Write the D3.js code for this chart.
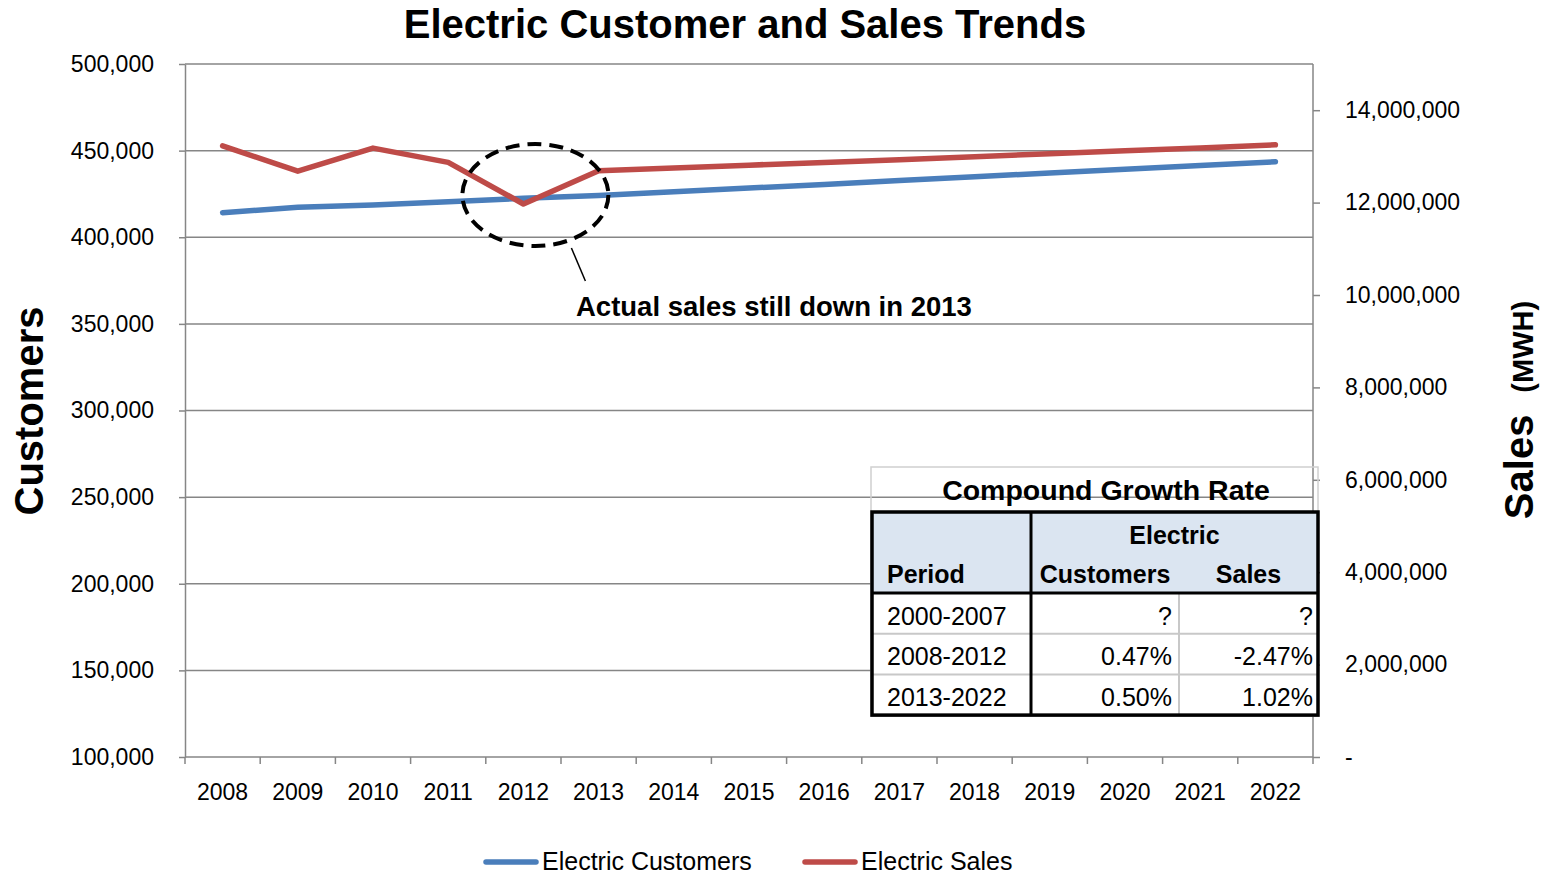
<!DOCTYPE html>
<html>
<head>
<meta charset="utf-8">
<script src="https://cdn.jsdelivr.net/npm/d3@7/dist/d3.min.js"></script>
<style>
  body { margin: 0; background: #fff; }
  svg { font-family: "Liberation Sans", Arial, sans-serif; }
  .axis path, .axis line { stroke: #868686; stroke-width: 1.5; }
  .axis text { fill: #000; font-size: 23px; }
</style>
</head>
<body>
<svg id="chart" width="1549" height="876"></svg>
<script>
// data
var years = ["2008","2009","2010","2011","2012","2013","2014","2015","2016","2017","2018","2019","2020","2021","2022"];
var customers = [414200, 417300, 418600, 420500, 422500, 424100, 426200, 428400, 430500, 432700, 434900, 437100, 439300, 441400, 443600];
var sales = [13230000, 12680000, 13180000, 12870000, 11970000, 12690000, 12750000, 12810000, 12870000, 12930000, 12990000, 13060000, 13120000, 13180000, 13250000];
var leftTicks = [100000, 150000, 200000, 250000, 300000, 350000, 400000, 450000, 500000];
var rightTicks = [0, 2000000, 4000000, 6000000, 8000000, 10000000, 12000000, 14000000];

// growth table
var tableTitle = "Compound Growth Rate";
var tablePeriods = ["2000-2007", "2008-2012", "2013-2022"];
var tableCustomers = ["?", "0.47%", "0.50%"];
var tableSales = ["?", "-2.47%", "1.02%"];

var svg = d3.select("#chart");
var plotL = 185, plotR = 1313, plotT = 64, plotB = 757;

var x = d3.scaleBand().domain(years).range([plotL, plotR]).padding(0);
var yL = d3.scaleLinear().domain([100000, 500000]).range([plotB, plotT]);
var yR = d3.scaleLinear().domain([0, 15000000]).range([plotB, plotT]);
var cx = function(d) { return x(d) + x.bandwidth() / 2; };
var fmt = d3.format(",");

// gridlines
svg.append("g").selectAll("line")
	.data(leftTicks.slice(1))
	.enter().append("line")
	.attr("x1", plotL).attr("x2", plotR)
	.attr("y1", function(d) { return yL(d); })
	.attr("y2", function(d) { return yL(d); })
	.attr("stroke", "#868686")
	.attr("stroke-width", 1.5);

// left axis
svg.append("g").attr("class", "axis")
	.attr("transform", "translate(" + plotL + ",0)")
	.call(d3.axisLeft(yL).tickValues(leftTicks).tickSize(6).tickSizeOuter(0).tickPadding(25).tickFormat(fmt));

// right axis
var axR = svg.append("g").attr("class", "axis")
	.attr("transform", "translate(" + plotR + ",0)")
	.call(d3.axisRight(yR).tickValues(rightTicks).tickSize(7).tickSizeOuter(0).tickPadding(25)
		.tickFormat(function(d) { return d === 0 ? "-" : fmt(d); }));
axR.select(".domain").attr("d", "M0," + plotT + "V" + plotB);

// bottom axis, ticks between categories
var axB = svg.append("g").attr("class", "axis")
	.attr("transform", "translate(0," + plotB + ")");
axB.append("line").attr("x1", plotL).attr("x2", plotR).attr("y1", 0).attr("y2", 0);
axB.selectAll(".tk")
	.data(d3.range(years.length + 1))
	.enter().append("line")
	.attr("x1", function(i) { return plotL + i * x.bandwidth(); })
	.attr("x2", function(i) { return plotL + i * x.bandwidth(); })
	.attr("y1", 0).attr("y2", 7);
axB.selectAll(".lbl")
	.data(years)
	.enter().append("text")
	.attr("x", cx)
	.attr("y", 43)
	.attr("text-anchor", "middle")
	.text(function(d) { return d; });

// lines
var lineC = d3.line().x(function(d, i) { return cx(years[i]); }).y(function(d) { return yL(d); });
var lineS = d3.line().x(function(d, i) { return cx(years[i]); }).y(function(d) { return yR(d); });

svg.append("path").datum(customers)
	.attr("d", lineC)
	.attr("fill", "none")
	.attr("stroke", "#4A7EBB")
	.attr("stroke-width", 5.5)
	.attr("stroke-linecap", "round")
	.attr("stroke-linejoin", "round");

svg.append("path").datum(sales)
	.attr("d", lineS)
	.attr("fill", "none")
	.attr("stroke", "#BE4B48")
	.attr("stroke-width", 5.5)
	.attr("stroke-linecap", "round")
	.attr("stroke-linejoin", "round");

// annotation round the 2012 dip
var ex = cx("2012") + 12, ey = yR(sales[4]) - 9;
svg.append("ellipse")
	.attr("cx", ex).attr("cy", ey)
	.attr("rx", 73).attr("ry", 51)
	.attr("fill", "none")
	.attr("stroke", "#000")
	.attr("stroke-width", 4)
	.attr("stroke-dasharray", "14,8");
svg.append("line")
	.attr("x1", ex + 36).attr("y1", ey + 53)
	.attr("x2", ex + 50).attr("y2", ey + 86)
	.attr("stroke", "#000").attr("stroke-width", 1.5);
svg.append("text")
	.attr("x", 576).attr("y", 316)
	.attr("font-size", 27.5).attr("font-weight", "bold")
	.text("Actual sales still down in 2013");

// title
svg.append("text")
	.attr("x", 745).attr("y", 38)
	.attr("text-anchor", "middle")
	.attr("font-size", 40).attr("font-weight", "bold")
	.text("Electric Customer and Sales Trends");

// axis titles
svg.append("text")
	.attr("transform", "translate(43,411) rotate(-90)")
	.attr("text-anchor", "middle")
	.attr("font-size", 40).attr("font-weight", "bold")
	.text("Customers");

var st = svg.append("text")
	.attr("transform", "translate(1533,410) rotate(-90)")
	.attr("text-anchor", "middle")
	.attr("font-weight", "bold");
st.append("tspan").attr("font-size", 40).text("Sales");
st.append("tspan").attr("font-size", 29).attr("dx", 22).text("(MWH)");

// growth table
var tb = svg.append("g");
var tx0 = 872, tx1 = 1031, tx2 = 1179, tx3 = 1318;
var ty0 = 512, tyH = 593, rowH = 40.7;

tb.append("rect")
	.attr("x", 871).attr("y", 467).attr("width", 447).attr("height", 249)
	.attr("fill", "none").attr("stroke", "#d0d0d0").attr("stroke-width", 1.5);
tb.append("rect")
	.attr("x", tx0).attr("y", ty0).attr("width", tx3 - tx0).attr("height", tyH - ty0)
	.attr("fill", "#DBE5F1");
tb.append("rect")
	.attr("x", tx0).attr("y", tyH).attr("width", tx3 - tx0).attr("height", 3 * rowH)
	.attr("fill", "#fff");

// light inner lines
tb.selectAll(".hl")
	.data([1, 2])
	.enter().append("line")
	.attr("x1", tx0).attr("x2", tx3)
	.attr("y1", function(i) { return tyH + i * rowH; })
	.attr("y2", function(i) { return tyH + i * rowH; })
	.attr("stroke", "#c8c8c8").attr("stroke-width", 2);
tb.append("line")
	.attr("x1", tx2).attr("x2", tx2).attr("y1", tyH).attr("y2", tyH + 3 * rowH)
	.attr("stroke", "#c8c8c8").attr("stroke-width", 2);

// heavy lines
tb.append("rect")
	.attr("x", tx0).attr("y", ty0).attr("width", tx3 - tx0).attr("height", tyH + 3 * rowH - ty0)
	.attr("fill", "none").attr("stroke", "#000").attr("stroke-width", 3.5);
tb.append("line")
	.attr("x1", tx0).attr("x2", tx3).attr("y1", tyH).attr("y2", tyH)
	.attr("stroke", "#000").attr("stroke-width", 3);
tb.append("line")
	.attr("x1", tx1).attr("x2", tx1).attr("y1", ty0).attr("y2", tyH + 3 * rowH)
	.attr("stroke", "#000").attr("stroke-width", 3);

tb.append("text")
	.attr("x", 1106).attr("y", 500)
	.attr("text-anchor", "middle")
	.attr("font-size", 28.5).attr("font-weight", "bold")
	.text(tableTitle);
tb.append("text")
	.attr("x", (tx1 + tx3) / 2).attr("y", 544)
	.attr("text-anchor", "middle")
	.attr("font-size", 25).attr("font-weight", "bold")
	.text("Electric");
tb.append("text").attr("x", 887).attr("y", 583)
	.attr("font-size", 25).attr("font-weight", "bold").text("Period");
tb.append("text").attr("x", (tx1 + tx2) / 2).attr("y", 583).attr("text-anchor", "middle")
	.attr("font-size", 25).attr("font-weight", "bold").text("Customers");
tb.append("text").attr("x", (tx2 + tx3) / 2).attr("y", 583).attr("text-anchor", "middle")
	.attr("font-size", 25).attr("font-weight", "bold").text("Sales");

var rows = tb.selectAll(".row")
	.data(tablePeriods)
	.enter().append("g")
	.attr("transform", function(d, i) { return "translate(0," + (tyH + (i + 1) * rowH - 9) + ")"; })
	.attr("font-size", 25);
rows.append("text").attr("x", 887).text(function(d) { return d; });
rows.append("text").attr("x", 1172).attr("text-anchor", "end")
	.text(function(d, i) { return tableCustomers[i]; });
rows.append("text").attr("x", 1313).attr("text-anchor", "end")
	.text(function(d, i) { return tableSales[i]; });

// legend
var legend = svg.append("g").attr("font-size", 25);
var legItems = [
	{name: "Electric Customers", color: "#4A7EBB", x: 484},
	{name: "Electric Sales", color: "#BE4B48", x: 803}
];
var li = legend.selectAll("g").data(legItems).enter().append("g")
	.attr("transform", function(d) { return "translate(" + d.x + ",862)"; });
li.append("line").attr("x1", 2).attr("x2", 52).attr("y1", 0).attr("y2", 0)
	.attr("stroke", function(d) { return d.color; })
	.attr("stroke-width", 5.5).attr("stroke-linecap", "round");
li.append("text").attr("x", 58).attr("y", 8).text(function(d) { return d.name; });
</script>
</body>
</html>
